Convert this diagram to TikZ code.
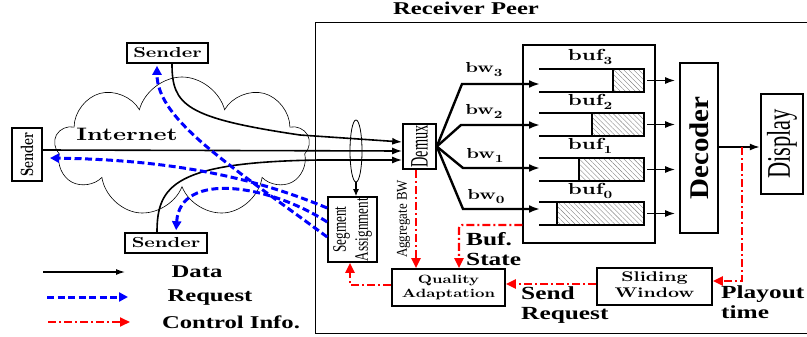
\documentclass[tikz,border=0pt]{standalone}
\usepackage{graphicx}
\usepackage{fontspec}
\setmainfont{Liberation Serif}
\newfontfamily\tb{Liberation Serif}[FakeStretch=1.37]
\newfontfamily\cmb{lmroman10-bold}[Extension=.otf,FakeStretch=1.37]
\newfontfamily\cmbn{lmroman10-bold}[Extension=.otf]
\usetikzlibrary{arrows.meta,shapes.geometric,shapes.symbols,patterns.meta,calc}
\newcommand\TBf[1]{\fontsize{#1}{#1}\tb\bfseries}
\newcommand\CMf[1]{\fontsize{#1}{#1}\cmb}
\newcommand\subdig[1]{\raisebox{-4pt}{\fontsize{11}{11}\cmb #1}}
\begin{document}
\begin{tikzpicture}[x=1pt,y=-1pt,
  box/.style={draw, line width=1.6pt, fill=white, inner sep=0pt},
  data/.style={line width=1.6pt, -{Latex[length=10pt,width=7pt]}},
  fan/.style={line width=2.4pt, -{Latex[length=11pt,width=8pt]}},
  req/.style={blue, line width=3pt, dash pattern=on 7pt off 3.5pt, -{Triangle[length=9pt,width=9pt]}},
  ctrl/.style={red, line width=2.2pt, dash pattern=on 8pt off 3pt on 2pt off 3pt, -{Triangle[length=10pt,width=9pt]}},
  bufl/.style={line width=1.4pt},
  hatch/.style={line width=1.4pt, pattern={Lines[angle=-45,distance=3.5pt,line width=0.4pt]}, pattern color=gray},
  lbl/.style={inner sep=0pt},
  tlbl/.style={inner sep=0pt, anchor=west, align=left, font={\fontsize{18.5}{20}\tb\bfseries}}
]
\useasboundingbox (0,0) rectangle (807,337);

% Receiver peer frame
\draw[line width=1pt] (315,23) rectangle (808,333);
\node[lbl] (rp) at (466,8) {\TBf{18}Receiver Peer};

% cloud
\node[cloud, draw, line width=0.6pt, cloud puffs=9, aspect=1.8, minimum width=255, minimum height=140] (cloud) at (182,147) {};
\node[lbl] (inet) at (127,134) {\CMf{18}Internet};

% senders
\node[box, minimum width=81, minimum height=20] (sTop) at (167.5,53) {\CMf{14.5}Sender};
\node[box, minimum width=30, minimum height=53] (sLeft) at (27,154.5) {\rotatebox{90}{\scalebox{1}[1.37]{\fontsize{13}{13}\cmbn Sender}}};
\node[box, minimum width=82, minimum height=20] (sBot) at (166,243) {\CMf{14.5}Sender};

% receiver components
\node[box, minimum width=33, minimum height=45] (demux) at (419.5,146.5) {\rotatebox{90}{\scalebox{1.43}[2.5]{\fontsize{10}{10}\selectfont Demux}}};
\node[draw, ellipse, line width=0.8pt, minimum width=12, minimum height=62, inner sep=0pt] (ell) at (356,151) {};
\node[box, minimum width=49, minimum height=65] (segA) at (352.5,229.5) {\rotatebox{90}{\scalebox{1.32}[1.9]{\fontsize{10}{11.5}\selectfont\begin{tabular}{@{}c@{}}Segment\\Assignment\end{tabular}}}};
\node[lbl] (agg) at (403.5,219) {\rotatebox{90}{\scalebox{1.29}[1.5]{\fontsize{10}{10}\selectfont Aggregate BW}}};

\node[draw, line width=1.1pt, minimum width=132, minimum height=198, inner sep=0pt] (bufbox) at (589,144) {};
\node[box, minimum width=38, minimum height=170] (dec) at (699,148) {\rotatebox{90}{\scalebox{2.9}[2.7]{\fontsize{10}{10}\bfseries Decoder}}};
\node[box, line width=2.5pt, minimum width=42, minimum height=100] (disp) at (782,144) {\rotatebox{90}{\scalebox{2.25}[3.3]{\fontsize{10}{10}\selectfont Display}}};

\node[box, minimum width=115, minimum height=37] (sw) at (654.5,286.5) {\fontsize{14}{16}\cmb\begin{tabular}{@{}c@{}}Sliding\\Window\end{tabular}};
\node[box, minimum width=113, minimum height=37] (qa) at (448.5,287.5) {\fontsize{12}{14.5}\cmb\begin{tabular}{@{}c@{}}Quality\\Adaptation\end{tabular}};

% text labels
\node[tlbl] (bst) at (466,249) {Buf.\\State};
\node[tlbl] (srq) at (521,305) {Send\\Request};
\node[tlbl] (pot) at (721,302) {Playout\\time};

% buffers
\foreach \yt/\yb/\xh/\nm in {69/92/613/bA, 113/136/592/bB, 158/181/579/bC, 202/225/557/bD}{
  \draw[bufl] (539,\yt) -- (644,\yt) -- (644,\yb) -- (539,\yb);
  \draw[hatch] (\xh,\yt) rectangle (644,\yb);
  \coordinate (\nm i) at (540,{(\yt+\yb)/2});
  \coordinate (\nm o) at (647,{(\yt+\yb)/2});
}
\node[lbl] (lb3) at (590,57) {\CMf{16}buf\subdig{3}};
\node[lbl] (lb2) at (590,102) {\CMf{16}buf\subdig{2}};
\node[lbl] (lb1) at (590,146) {\CMf{16}buf\subdig{1}};
\node[lbl] (lb0) at (590,191) {\CMf{16}buf\subdig{0}};

% bw fan
\draw[fan] (demux.east) -- (462,84) -- (bAi |- 0,84);
\draw[fan] (demux.east) -- (461,125) -- (bBi |- 0,125);
\draw[fan] (demux.east) -- (463,168) -- (bCi |- 0,168);
\draw[fan] (demux.east) -- (463,209) -- (bDi |- 0,209);
\node[lbl] (lw3) at (484,70) {\CMf{14.5}bw\subdig{3}};
\node[lbl] (lw2) at (484,111) {\CMf{14.5}bw\subdig{2}};
\node[lbl] (lw1) at (485,155) {\CMf{14.5}bw\subdig{1}};
\node[lbl] (lw0) at (486,197) {\CMf{14.5}bw\subdig{0}};

% buffer to decoder
\foreach \nm in {bAo,bBo,bCo,bDo}{
  \draw[data, shorten >=4pt] (\nm) -- (dec.west |- \nm);
}
\draw[data] (dec.east |- 0,147) -- (disp.west |- 0,147);

% data paths from senders
\draw[data] (sTop.south -| 172,0) .. controls (172,105) and (185,118) .. (300,135) -- (demux.west |- 0,142);
\draw[data] (sLeft.east |- 0,150) -- (demux.west |- 0,151);
\draw[data] (sBot.north -| 157,0) .. controls (157,185) and (175,162) .. (320,160) -- (demux.west |- 0,160);
\draw[line width=1.2pt, -{Latex[length=7pt,width=6pt]}] (ell.south) -- (segA.north -| ell.south);

% requests
\draw[req, shorten >=2pt] (segA.west |- 0,208) .. controls (260,180) and (180,160) .. (48,158);
\draw[req, shorten >=2pt] (segA.west |- 0,237) .. controls (230,165) and (157,120) .. (sTop.south -| 157,0);
\draw[req, shorten >=2pt] (segA.west |- 0,222) .. controls (270,185) and (180,170) .. (sBot.north -| 176,0);

% control info
\coordinate (po) at (742,147);
\draw[ctrl] (po) -- (742,281) -- (sw.east |- 0,281);
\draw[ctrl] (sw.west |- 0,284) -- (qa.east |- 0,284);
\draw[ctrl] (demux.south -| 416,0) -- (qa.north -| 416,0);
\draw[ctrl, rounded corners=3pt] (bufbox.west |- 0,225) -- (459,225) -- (qa.north -| 459,0);
\draw[ctrl] (qa.west |- 0,285) -- (350,285) -- (segA.south -| 350,0);

% legend
\coordinate (d1) at (43,272); \coordinate (d2) at (125,272);
\coordinate (r1) at (47,297); \coordinate (r2) at (128,297);
\coordinate (c1) at (48,322); \coordinate (c2) at (130,322);
\draw[line width=1.2pt, -{Latex[length=9pt,width=6pt]}] (d1) -- (d2);
\draw[req] (r1) -- (r2);
\draw[ctrl, line width=1.8pt] (c1) -- (c2);
\node[lbl] (ld) at (197,272) {\TBf{18}Data};
\node[lbl] (lr) at (210,298) {\TBf{18}Request};
\node[lbl] (lc) at (231,322) {\TBf{18}Control Info.};
\end{tikzpicture}
\end{document}
